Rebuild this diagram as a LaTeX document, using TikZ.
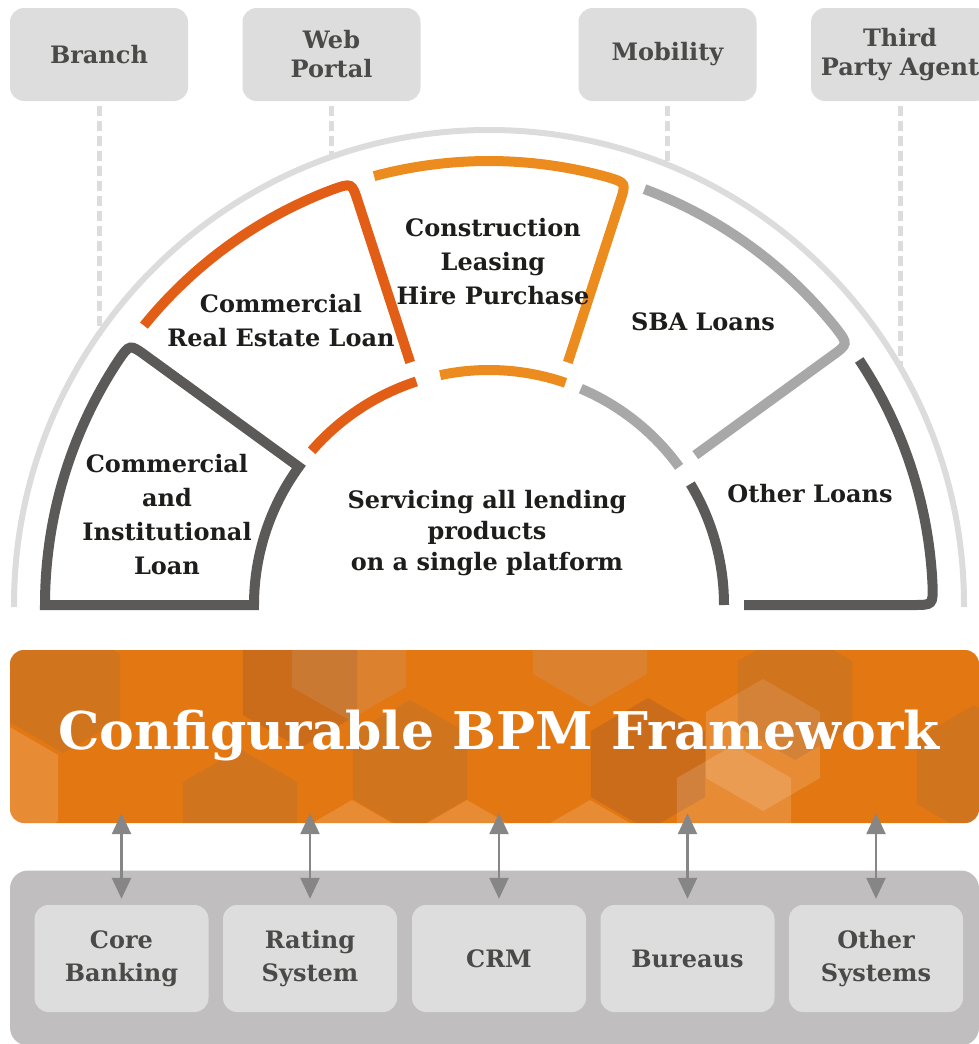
\documentclass[tikz,border=0pt]{standalone}
\usepackage{fontspec}
\setmainfont{DejaVu Serif}
\usetikzlibrary{arrows.meta,calc}

\definecolor{boxgray}{HTML}{DDDDDD}
\definecolor{textgray}{HTML}{4A4A48}
\definecolor{ringgray}{HTML}{DCDCDC}
\definecolor{panelgray}{HTML}{5B5A59}
\definecolor{realestate}{HTML}{E25E17}
\definecolor{construction}{HTML}{EC8C1E}
\definecolor{sbagray}{HTML}{A8A8A8}
\definecolor{inktext}{HTML}{1D1D1B}
\definecolor{bpmorange}{HTML}{E37712}
\definecolor{hexshade}{HTML}{A86E3C}
\definecolor{hexdeepshade}{HTML}{A0582A}
\definecolor{hexpaleshade}{HTML}{C8A080}
\definecolor{systemgray}{HTML}{C0BEBE}
\definecolor{arrowgray}{HTML}{868686}

\newcommand{\segfont}{\bfseries\fontsize{24}{34}\selectfont}

\begin{document}
\begin{tikzpicture}[
    x=1pt, y=1pt,
    font=\segfont,
    >={Triangle[length=21pt, width=19pt]}, % Pfeilspitzen
    kanal/.style={fill=boxgray, rounded corners=14pt, text=textgray,
        minimum width=178pt, minimum height=93pt, align=center,
        font=\bfseries\fontsize{24}{29}\selectfont},
    system/.style={kanal, minimum width=174pt, minimum height=107pt,
        font=\bfseries\fontsize{24}{33}\selectfont},
    link/.style={draw=ringgray, line width=5pt, dash pattern=on 10pt off 5pt},
    ring/.style={draw=ringgray, line width=6pt},
    segment/.style={line width=10pt},
    segtext/.style={text=inktext, align=center},
    io/.style={<->, draw=arrowgray, line width=2.5pt},
    hexdark/.style={fill=hexshade, fill opacity=.3},
    hexdeep/.style={fill=hexdeepshade, fill opacity=.35},
    hexpale/.style={fill=hexpaleshade, fill opacity=.25},
    hexlight/.style={fill=white, fill opacity=.15}
    ]
        \useasboundingbox (0,0) rectangle (979,-1044);

        % Kanaele
        \node[kanal] (branch)   at (99,-54.5)    {Branch};
        \node[kanal] (web)      at (331.5,-54.5) {Web\\Portal};
        \node[kanal] (mobility) at (667.5,-54.5) {Mobility};
        \node[kanal] (agent)    at (900,-54.5)   {Third\\Party Agent};

        \coordinate (branch-end)   at (99,-336);
        \coordinate (web-end)      at (331.5,-158);
        \coordinate (mobility-end) at (667.5,-166);
        \coordinate (agent-end)    at (900,-368);

        \draw[link] ([yshift=-5pt]branch.south)   -- (branch-end);
        \draw[link] ([yshift=-5pt]web.south)      -- (web-end);
        \draw[link] ([yshift=-5pt]mobility.south) -- (mobility-end);
        \draw[link] ([yshift=-5pt]agent.south)    -- (agent-end);

        % Bogen
        \draw[ring] (14,-607) -- (14,-605) arc[start angle=180, end angle=0, radius=475] -- (964,-607);

        % Segmente
        \begin{scope}[shift={(489,-605)}]
            \draw[segment, draw=panelgray] (180:444)
                arc[start angle=180, end angle=146.6, radius=444]
                .. controls (144:444) .. (144:424) -- (144:235)
                arc[start angle=144, end angle=180, radius=235] -- cycle;

            \draw[segment, draw=realestate] (141:444)
                arc[start angle=141, end angle=110.6, radius=444]
                .. controls (108:444) .. (108:424) -- (108:255);
            \draw[segment, draw=realestate] (139:235) arc[start angle=139, end angle=108, radius=235];

            \draw[segment, draw=construction] (105:444)
                arc[start angle=105, end angle=74.6, radius=444]
                .. controls (72:444) .. (72:424) -- (72:255);
            \draw[segment, draw=construction] (102:235) arc[start angle=102, end angle=71, radius=235];

            \draw[segment, draw=sbagray] (69.5:444)
                arc[start angle=69.5, end angle=38.6, radius=444]
                .. controls (36:444) .. (36:424) -- (36:255);
            \draw[segment, draw=sbagray] (67:235) arc[start angle=67, end angle=36, radius=235];

            \draw[segment, draw=panelgray] (33.5:444)
                arc[start angle=33.5, end angle=2.6, radius=444]
                .. controls (0:444) .. (0:424) -- (0:255);
            \draw[segment, draw=panelgray] (31:235) arc[start angle=31, end angle=0, radius=235];
        \end{scope}

        \node[segtext] (commercial)   at (167,-515) {Commercial\\and\\Institutional\\Loan};
        \node[segtext] (estate)       at (281,-321) {Commercial\\Real Estate Loan};
        \node[segtext] (construct)    at (493,-262) {Construction\\Leasing\\Hire Purchase};
        \node[segtext] (sba)          at (703,-322) {SBA Loans};
        \node[segtext] (otherloans)   at (810,-494) {Other Loans};
        \node[segtext, font=\bfseries\fontsize{24}{31}\selectfont]
                       (servicing)    at (487,-533) {Servicing all lending\\products\\on a single platform};

        % Framework
        \node[fill=bpmorange, rounded corners=14pt, minimum width=969pt, minimum height=173pt]
            (bpm) at (494.5,-736.5) {};
        \begin{scope}
            \clip[rounded corners=14pt] (bpm.south west) rectangle (bpm.north east);
            \foreach \hx/\hy/\hs in {63/687/hexdark, 1/788/hexlight, 300/682/hexdeep,
                    349/654/hexpale, 240/815/hexdark, 410/766/hexdark, 352/866/hexlight,
                    467/866/hexlight, 590/641/hexpale, 648/764/hexdeep, 763/745/hexlight,
                    734/811/hexlight, 795/694/hexdark, 974/771/hexdark, 590/866/hexlight}
                \fill[\hs] (\hx,-\hy) ++(90:66) -- ++(-30:66) -- ++(-90:66)
                    -- ++(-150:66) -- ++(150:66) -- ++(90:66) -- cycle;
        \end{scope}
        \node[text=white, font=\bfseries\fontsize{52}{60}\selectfont]
            (bpmtext) at (499,-736) {Configurable BPM Framework};

        % Umsysteme
        \node[fill=systemgray, rounded corners=18pt, minimum width=969pt, minimum height=175pt]
            (systems) at (494.5,-958) {};

        \node[system] (core)     at (121.5,-958.5) {Core\\Banking};
        \node[system] (rating)   at (310,-958.5)   {Rating\\System};
        \node[system] (crm)      at (499,-958.5)   {CRM};
        \node[system] (bureaus)  at (687.5,-958.5) {Bureaus};
        \node[system] (othersys) at (876,-958.5)   {Other\\Systems};

        \draw[io] ($(core.north |- bpm.south)+(0,10)$)     -- ([yshift=6pt]core.north);
        \draw[io] ($(rating.north |- bpm.south)+(0,10)$)   -- ([yshift=6pt]rating.north);
        \draw[io] ($(crm.north |- bpm.south)+(0,10)$)      -- ([yshift=6pt]crm.north);
        \draw[io] ($(bureaus.north |- bpm.south)+(0,10)$)  -- ([yshift=6pt]bureaus.north);
        \draw[io] ($(othersys.north |- bpm.south)+(0,10)$) -- ([yshift=6pt]othersys.north);
\end{tikzpicture}
\end{document}
